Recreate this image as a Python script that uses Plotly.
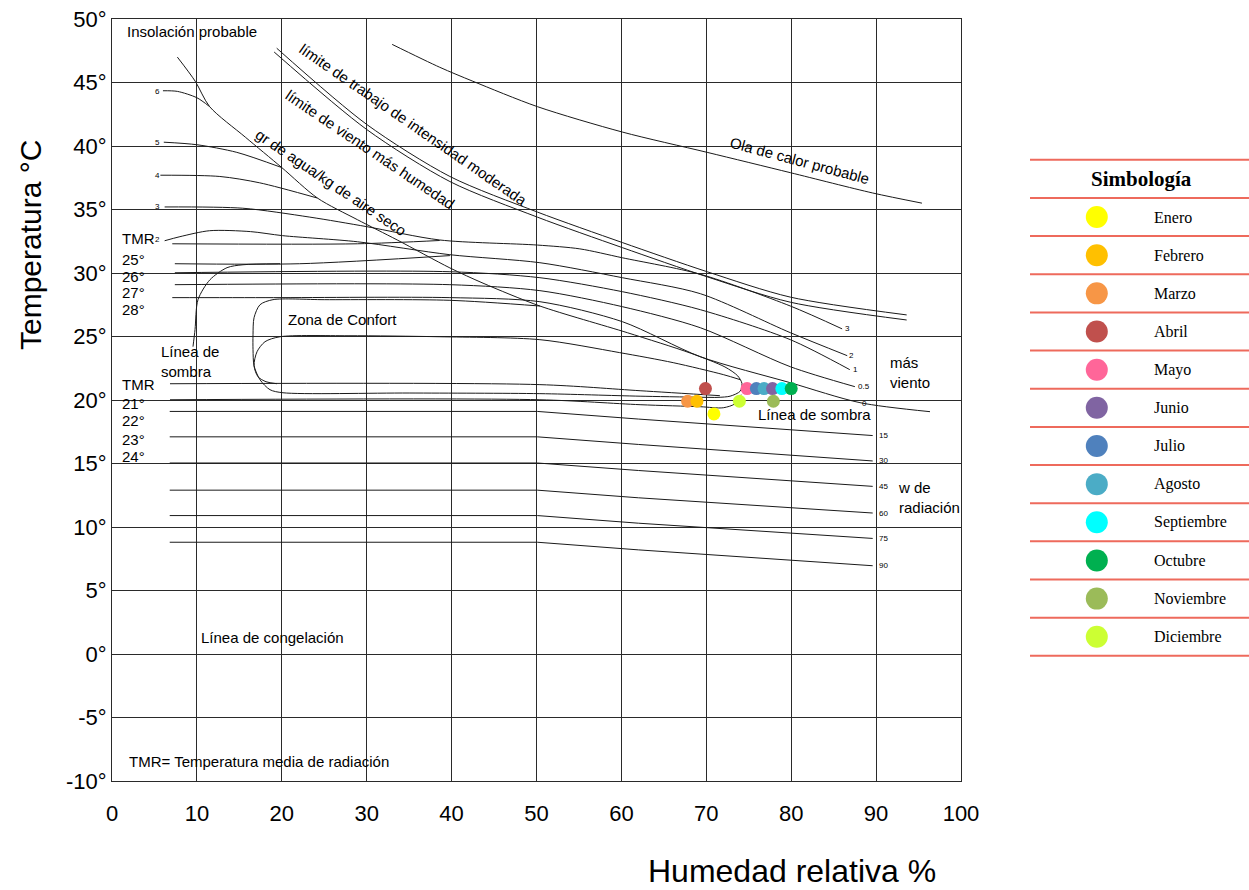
import plotly.graph_objects as go

# ---------------- data ----------------
months = ["Enero", "Febrero", "Marzo", "Abril", "Mayo", "Junio", "Julio",
          "Agosto", "Septiembre", "Octubre", "Noviembre", "Diciembre"]
month_colors = ["#FFFF00", "#FFC000", "#F79646", "#C0504D", "#FF6699", "#8064A2",
                "#4F81BD", "#4BACC6", "#00FFFF", "#00B050", "#9BBB59", "#CCFF33"]
month_rh = [70.9, 68.9, 67.8, 69.9, 74.8, 77.8, 75.9, 76.8, 78.9, 80.0, 77.9, 73.9]
month_t = [18.9, 19.9, 19.9, 20.9, 20.9, 20.9, 20.9, 20.9, 20.9, 20.9, 19.9, 19.9]

x_ticks = [0, 10, 20, 30, 40, 50, 60, 70, 80, 90, 100]
y_ticks = [-10, -5, 0, 5, 10, 15, 20, 25, 30, 35, 40, 45, 50]

# Ola de calor probable
ola_rh = [33.0, 38.6, 42.5, 50.1, 60.1, 70.1, 79.9, 89.6, 95.4]
ola_t = [48.0, 46.2, 45.1, 43.1, 41.1, 39.5, 37.9, 36.3, 35.5]
# limite de trabajo / limite de viento (pair)
lim1_rh = [19.4, 30.0, 39.8, 50.1, 60.1, 70.1, 79.9, 93.6]
lim1_t = [47.7, 41.7, 37.6, 34.8, 32.4, 30.1, 28.1, 26.7]
lim2_rh = [19.1, 30.0, 39.8, 50.1, 60.1, 70.1, 79.9, 93.6]
lim2_t = [47.4, 41.3, 37.2, 34.4, 32.0, 29.7, 27.7, 26.3]
# insolacion diagonal -> comfort tip
diag_rh = [7.7, 9.8, 11.5, 15.7, 20.0, 24.2, 28.9, 33.6, 39.8, 43.7, 50.4, 60.7, 68.1, 72.2, 73.7, 74.2, 74.0, 72.8, 71.0]
diag_t = [47.0, 45.1, 43.1, 40.7, 38.3, 35.9, 34.2, 32.6, 30.4, 29.2, 27.4, 25.3, 23.7, 22.6, 21.9, 21.3, 20.7, 20.3, 20.2]
# gr de agua curves
gr6_rh = [6.0, 7.7, 10.0, 11.5]
gr6_t = [44.35, 44.3, 43.8, 43.1]
gr5_rh = [6.1, 10.0, 14.7, 20.0]
gr5_t = [40.3, 40.1, 39.5, 38.3]
gr4_rh = [5.7, 12.7, 17.4, 24.2]
gr4_t = [37.7, 37.6, 37.1, 35.9]
# wind lines (3, 2, 1, 0.5, 0)
w3_rh = [6.2, 15.4, 23.3, 30.0, 38.6, 50.1, 55.1, 60.1, 69.3, 79.9, 86.0]
w3_t = [35.2, 35.1, 34.4, 33.65, 32.6, 32.2, 31.9, 31.2, 29.9, 27.4, 25.6]
w2_rh = [6.2, 8.0, 11.5, 16.3, 20.1, 28.9, 39.8, 50.4, 60.1, 69.3, 79.9, 86.6]
w2_t = [32.54, 32.86, 33.33, 33.26, 32.94, 32.46, 31.44, 30.81, 29.63, 28.37, 25.30, 23.49]
w1_rh = [7.4, 39.8, 50.4, 60.1, 69.3, 79.9, 86.9]
w1_t = [30.02, 30.10, 29.63, 28.53, 27.11, 24.75, 22.39]
w05_rh = [7.4, 39.8, 50.4, 60.1, 69.3, 79.9, 87.5]
w05_t = [29.08, 29.08, 28.61, 27.35, 25.69, 22.62, 21.05]
w0_rh = [7.1, 19.0, 39.8, 50.4, 60.1, 69.3, 79.9, 88.1, 96.35]
w0_t = [28.06, 28.06, 28.06, 27.74, 26.17, 23.41, 21.36, 19.79, 19.08]
# TMR upper lines
tmr_a_rh = [7.1, 28.9, 38.6]
tmr_a_t = [32.3, 32.3, 32.56]
tmr_b_rh = [7.4, 22.1, 39.8]
tmr_b_t = [30.73, 30.73, 31.37]
# linea de sombra (left)
sombra_rh = [9.54, 9.78, 10.13, 11.54, 13.55, 15.43, 19.79]
sombra_t = [24.2, 25.54, 27.90, 29.47, 30.42, 30.65, 30.73]
# comfort zone outlines
conf_out_rh = [50.4, 39.8, 25.0, 18.96, 17.43, 16.73, 16.61, 16.61, 16.73, 17.43, 18.61, 20.14, 35.0, 50.4, 62.2, 71.0]
conf_out_t = [27.4, 27.85, 27.9, 27.90, 27.50, 26.48, 25.14, 23.96, 22.70, 21.60, 20.81, 20.57, 20.55, 20.5, 20.3, 20.2]
conf_in_rh = [74.0, 72.0, 66.1, 59.8, 50.4, 38.6, 27.8, 19.79, 18.02, 17.08, 16.73, 17.2, 18.14, 19.43]
conf_in_t = [21.6, 22.0, 22.94, 23.73, 24.75, 24.98, 25.06, 24.98, 24.59, 23.80, 22.70, 21.83, 21.44, 21.28]
tmr_low_rh = [6.83, 50.4, 62.2, 71.6]
tmr_low_t = [21.28, 21.21, 20.73, 20.34]
sombra_low_rh = [6.83, 50.4, 62.2, 69.3, 72.0, 73.4, 74.1]
sombra_low_t = [20.02, 20.02, 19.63, 19.47, 19.39, 19.71, 20.42]
# radiation lines (w de radiacion)
rad_labels = ["15", "30", "45", "60", "75", "90"]
rad_rh = [6.8, 50.1, 62.0, 89.6]
rad_t_start = [19.1, 17.1, 15.04, 12.9, 10.9, 8.8]
rad_t_knee = [18.5, 16.5, 14.45, 12.3, 10.3, 8.2]
rad_t_end = [17.2, 15.2, 13.2, 11.1, 9.1, 6.95]

# ---------------- figure ----------------
FONT = "Liberation Sans, Arial, sans-serif"
SERIF = "Liberation Serif, Times New Roman, serif"
LC = "#1a1a1a"

fig = go.Figure()


def add_line(xs, ys, width=1.0, spline=True):
    fig.add_trace(go.Scatter(
        x=xs, y=ys, mode="lines", hoverinfo="skip", showlegend=False,
        line=dict(color=LC, width=width, shape="spline" if spline else "linear", smoothing=0.8)))


for xs, ys in [(ola_rh, ola_t), (lim1_rh, lim1_t), (lim2_rh, lim2_t), (diag_rh, diag_t),
               (gr6_rh, gr6_t), (gr5_rh, gr5_t), (gr4_rh, gr4_t),
               (w3_rh, w3_t), (w2_rh, w2_t), (w1_rh, w1_t), (w05_rh, w05_t), (w0_rh, w0_t),
               (tmr_a_rh, tmr_a_t), (tmr_b_rh, tmr_b_t), (sombra_rh, sombra_t),
               (conf_out_rh, conf_out_t), (conf_in_rh, conf_in_t),
               (tmr_low_rh, tmr_low_t), (sombra_low_rh, sombra_low_t)]:
    add_line(xs, ys)

for a, k, b in zip(rad_t_start, rad_t_knee, rad_t_end):
    add_line(rad_rh, [a, a, k, b], spline=False)

# month points, drawn left to right
order = sorted(range(len(months)), key=lambda i: month_rh[i])
for i in order:
    fig.add_trace(go.Scatter(x=[month_rh[i]], y=[month_t[i]], mode="markers", name=months[i],
                             showlegend=False, marker=dict(size=13, color=month_colors[i], line=dict(width=0))))

# legend table on separate axes
fig.add_trace(go.Scatter(x=[0.305] * len(months), y=list(range(len(months))), mode="markers",
                         xaxis="x2", yaxis="y2", showlegend=False, hoverinfo="skip",
                         marker=dict(size=22, color=month_colors, line=dict(width=0))))

ann = []


def txt(x, y, s, size=14, angle=0, xanchor="center", align="center", ref=("x", "y"), family=FONT, bold=False):
    if bold:
        s = "<b>" + s + "</b>"
    ann.append(dict(x=x, y=y, xref=ref[0], yref=ref[1], text=s, showarrow=False, textangle=angle,
                    xanchor=xanchor, yanchor="middle", align=align,
                    font=dict(family=family, size=size, color="black")))


txt(9.4, 49.0, "Insolación probable", 15)
txt(35.45, 41.68, "límite de trabajo de intensidad moderada", 15, 34.6)
txt(30.4, 39.71, "límite de viento más humedad", 15, 34)
txt(25.8, 37.1, "gr de agua/kg de aire seco", 15, 34)
txt(81.0, 38.85, "Ola de calor probable", 15, 15)
txt(27.1, 26.3, "Zona de Confort", 15)
txt(5.5, 23.0, "Línea de<br>sombra", 15, xanchor="left", align="left")
for lab, yy in zip(["TMR", "25°", "26°", "27°", "28°"], [32.7, 31.07, 29.73, 28.43, 27.11]):
    txt(1.0, yy, lab, 15, xanchor="left")
for lab, yy in zip(["TMR", "21°", "22°", "23°", "24°"], [21.21, 19.71, 18.37, 16.87, 15.54]):
    txt(1.0, yy, lab, 15, xanchor="left")
for lab, yy in zip(["6", "5", "4", "3", "2"], [44.3, 40.26, 37.66, 35.22, 32.6]):
    txt(5.4, yy, lab, 8)
for lab, xx, yy in zip(["3", "2", "1", "0.5", "0"], [86.1, 86.6, 87.0, 87.6, 88.1],
                       [25.6, 23.5, 22.4, 21.05, 19.75]):
    txt(xx, yy, lab, 8, xanchor="left")
for lab, yy in zip(rad_labels, rad_t_end):
    txt(90.1, yy, lab, 8, xanchor="left")
txt(91.4, 22.15, "más<br>viento", 15, xanchor="left", align="left")
txt(92.3, 12.3, "w de<br>radiación", 15, xanchor="left", align="left")
txt(82.7, 18.85, "Línea de sombra", 15)
txt(18.85, 1.28, "Línea de congelación", 15)
txt(17.3, -8.47, "TMR= Temperatura media de radiación", 15)

# axis titles
txt(0.598, -0.118, "Humedad relativa %", 32, ref=("paper", "paper"))
txt(-0.0721, 0.7034, "Temperatura °C", 30, angle=-90, ref=("paper", "paper"))

# legend texts
txt(0.51, -1.0, "Simbología", 21, ref=("x2", "y2"), family=SERIF, bold=True)
for i, m in enumerate(months):
    txt(0.557, i, m, 16, xanchor="left", ref=("x2", "y2"), family=SERIF)

shapes = []
for k in range(-2, len(months)):
    yv = k + 0.5 if k >= -1 else -1.5
    shapes.append(dict(type="line", xref="x2", yref="y2", x0=0, x1=1, y0=yv, y1=yv,
                       line=dict(color="#EE6A5C", width=2)))

fig.update_layout(
    width=1249, height=890,
    margin=dict(l=112, r=0, t=19, b=109, autoexpand=False),
    paper_bgcolor="white", plot_bgcolor="white",
    showlegend=False,
    annotations=ann, shapes=shapes,
    xaxis=dict(domain=[0, 849 / 1137], range=[0, 100], tickvals=x_ticks, automargin=False,
               ticktext=[str(v) for v in x_ticks], showgrid=True, gridcolor="#2a2a2a", gridwidth=1,
               zeroline=False, showline=True, linecolor="#2a2a2a", linewidth=1, mirror=True,
               ticks="", ticklabelstandoff=13,
               tickfont=dict(family=FONT, size=22, color="black")),
    yaxis=dict(domain=[0, 1], range=[-10, 50], tickvals=y_ticks, automargin=False,
               ticktext=[f"{v}°" for v in y_ticks], showgrid=True, gridcolor="#2a2a2a", gridwidth=1,
               zeroline=False, showline=True, linecolor="#2a2a2a", linewidth=1, mirror=True,
               ticks="", ticklabelstandoff=0,
               tickfont=dict(family=FONT, size=22, color="black")),
    xaxis2=dict(domain=[(1030 - 112) / 1137, 1], range=[0, 1], visible=False, anchor="y2", automargin=False),
    yaxis2=dict(domain=[0, 1], range=[14.78, -5.19], visible=False, anchor="x2", automargin=False),
)

fig.write_html("out.html", config={"displayModeBar": False},
               post_script="document.body.style.margin='0';document.body.style.overflow='hidden';")
